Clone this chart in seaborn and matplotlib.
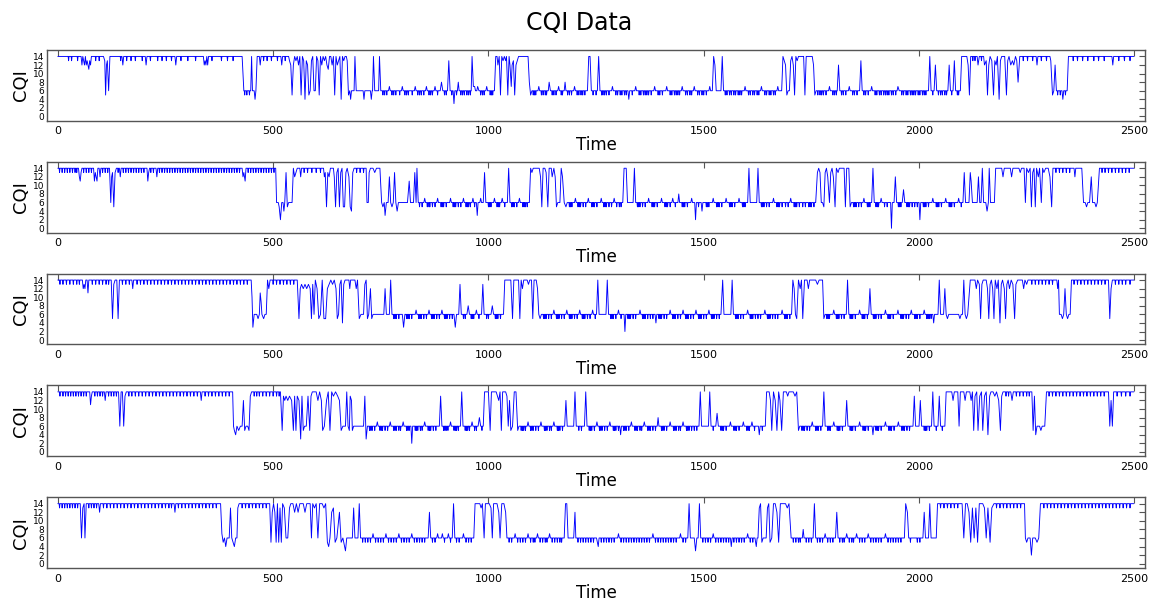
import numpy as np
import pandas as pd
import matplotlib
matplotlib.use("Agg")
import matplotlib.pyplot as plt
import seaborn as sns

# ---------------- data: (time, CQI) vertices ----------------
run1 = [(0,14),(54,14),(56,12),(58,14),(60,13),(62,12),(64,14),(66,12),(68,13),(70,12),(72,11),(74,13),(76,12),(78,14),(106,14),(109,13),(111,5),(113,12),(115,13),(118,6),(121,14),(149,14),(151,12),(153,14),(203,14),(205,12),(207,14),(272,14),(274,12),(276,14),(338,14),(340,12),(342,13),(344,12),(346,14),(348,12),(350,14),(428,14),
(430,10),(432,6),(448,6),(450,14),(452,6),(456,6),(458,4),(460,6),(463,14),(468,14),(470,12),(472,14),(518,14),(520,12),(522,14),(536,14),
(538,13),(541,12),(544,5),(547,12),(550,14),(553,13),(556,14),(559,12),(562,14),(565,5),(568,14),(571,13),(574,4),(577,13),(580,12),(583,5),(586,6),(589,13),(592,14),(595,6),(598,6),(601,14),(604,13),(607,5),(610,14),(613,12),(616,14),(619,13),(622,14),(625,12),(628,11),(631,14),(634,14),(637,12),(640,14),(643,5),(646,14),(649,12),(652,13),(655,14),(658,4),(661,14),(664,13),(667,14),(670,14),(672,13),(675,5),
(678,6),(680,4),(682,6),(688,6),(690,14),(693,6),(709,6),(711,4),(713,6),(726,6),(728,4),(730,6),(731,6),(733,14),(736,6),(745,6),(747,14),(750,6),
(768,6),(770,7),(772,6),(798,6),(800,7),(802,6),(828,6),(830,7),(832,6),(854,6),(856,7),(858,6),(874,6),(876,7),(878,6),(888,6),(891,8),(894,6),(905,6),(908,13),(911,6),(918,6),(920,3),(922,6),(928,6),(930,8),(932,6),(960,6),(962,14),(965,7),(968,7),(970,6),(973,6),(975,7),(978,6),(994,6),(996,7),(998,6),(1014,6),
(1017,14),(1020,14),(1022,12),(1025,14),(1028,5),(1031,14),(1034,13),(1037,14),(1040,13),(1042,14),(1045,5),(1048,14),(1050,12),(1053,7),(1055,12),(1058,13),(1061,5),(1064,12),(1067,13),(1070,14),(1092,14),(1095,8),(1098,5),(1101,6),
(1115,6),(1117,7),(1119,6),(1139,6),(1141,8),(1144,6),(1161,6),(1163,7),(1165,6),(1176,6),(1178,8),(1180,6),(1198,6),(1200,7),(1202,6),(1230,6),(1233,14),(1236,14),(1239,6),(1253,6),(1256,14),(1259,6),
(1286,6),(1288,7),(1290,6),(1324,6),(1326,4),(1328,6),(1340,6),(1342,7),(1344,6),(1384,6),(1386,7),(1388,6),(1412,6),(1414,7),(1416,6),(1448,6),(1450,7),(1452,6),(1476,6),(1478,7),(1480,6),(1512,6),(1514,7),(1516,6),(1520,6),(1523,14),(1526,12),(1529,6),(1540,6),(1543,14),(1546,6),
(1594,6),(1596,7),(1598,6),(1632,6),(1634,7),(1636,6),(1670,6),(1672,7),(1674,6),(1681,6),
(1684,14),(1687,13),(1690,12),(1693,5),(1696,6),(1699,6),(1702,13),(1705,14),(1708,12),(1711,5),(1714,14),(1717,13),(1720,14),(1732,14),(1735,5),(1738,14),(1752,14),(1755,12),(1758,5),(1761,6),
(1790,6),(1792,7),(1794,6),(1810,6),(1813,12),(1816,6),(1836,6),(1838,7),(1840,6),(1862,6),(1865,13),(1868,6),(1888,6),(1890,7),(1892,6),(1949,6),(1951,7),(1954,6),(2022,6),(2025,14),(2028,6),(2035,6),(2038,12),(2041,6),(2067,6),(2070,12),(2073,6),(2079,6),(2082,13),(2085,6),(2096,6),
(2099,14),(2111,14),(2114,12),(2117,5),(2120,14),(2135,14),(2137,12),(2140,14),(2150,14),(2152,12),(2156,13),(2159,5),(2162,12),(2165,14),(2169,13),(2173,5),(2176,13),(2179,12),(2182,14),(2186,4),(2189,13),(2192,14),(2199,14),(2203,5),(2206,13),(2209,14),(2213,12),(2217,13),(2220,12),(2224,14),(2227,13),(2230,8),(2234,14),(2272,14),(2274,12),(2276,14),(2304,14),(2306,13),
(2310,5),(2313,6),(2316,12),(2319,6),(2332,6),(2334,4),(2336,6),(2344,6),(2347,14),(2448,14),(2450,12),(2452,14),(2499,14)]
dips1 = [25,32,46,88,96,146,160,170,180,196,215,232,242,252,264,286,302,320,358,380,394,407,434,439,445,478,486,496,510,528,
755,759,764,776,780,785,794,806,810,814,823,836,840,844,850,862,866,870,882,898,902,915,926,936,940,944,950,954,958,982,986,990,1004,1007,1010,
1104,1107,1110,1123,1127,1132,1135,1138,1148,1152,1157,1169,1172,1184,1188,1193,1206,1210,1215,1219,1224,1243,1250,
1263,1266,1270,1274,1280,1296,1300,1306,1310,1316,1320,1334,1350,1354,1360,1364,1368,1372,1378,1394,1398,1404,1422,1426,1432,1436,1440,1444,1458,1462,1468,1472,1486,1490,1496,1500,1506,
1550,1554,1560,1564,1570,1574,1580,1584,1588,1604,1608,1614,1618,1624,1628,1642,1646,1652,1656,1662,1666,
1765,1770,1774,1778,1784,1800,1804,1808,1820,1824,1830,1846,1850,1856,1872,1876,1882,1898,1902,1908,1912,1918,1922,1926,1930,1936,1940,1946,1960,1964,1970,1974,1980,1984,1988,1992,1998,2002,2008,2012,2016,2032,2045,2050,2054,2060,2064,2076,2089,2092,
2125,2130,2145,2242,2252,2264,2284,2296,2322,2328,2340,2358,2368,2380,2392,2406,2417,2430,2464,2477,2490]

run2 = [(0,14),(48,14),(50,12),(52,11),(54,13),(56,14),(83,14),(85,11),(87,13),(89,12),(91,11),(93,14),(96,14),(98,12),(100,14),(120,14),(123,6),(125,12),(127,13),(130,5),(133,13),(136,14),(143,14),(145,12),(147,14),(207,14),(209,11),(211,13),(213,14),(228,14),(230,12),(232,14),(428,14),(430,12),(432,13),(435,11),(437,14),(506,14),
(508,6),(512,6),(514,5),(517,2),(520,6),(523,6),(525,4),(527,6),(530,13),(533,5),(536,6),(544,6),(547,14),(550,12),(553,13),(556,14),(562,14),(564,12),(566,14),(617,14),(619,12),(621,13),(624,5),(627,13),(630,12),(633,14),(640,14),(642,12),(645,5),(648,13),(651,14),(654,5),(657,13),(660,14),(663,5),(666,5),(669,13),(672,14),(676,12),(679,5),(682,4),(685,13),(688,14),(716,14),(718,6),(721,6),(723,13),(726,14),(732,14),(736,13),(740,14),(748,14),(752,6),(755,5),(758,6),(760,3),(763,6),(767,6),(770,12),(773,6),(776,5),(779,6),(782,13),(785,6),(788,4),(791,6),(812,6),(816,11),(819,6),(826,6),(829,13),(832,6),(834,14),(837,6),
(850,6),(852,7),(854,6),(880,6),(882,7),(884,6),(910,6),(912,7),(914,6),(940,6),(942,7),(944,6),(962,6),(964,7),(966,6),(972,6),(974,3),(976,6),(980,6),(982,7),(984,6),(988,6),(991,13),(994,6),(1012,6),(1014,7),(1016,6),(1030,6),(1032,7),(1034,6),(1044,6),(1047,14),(1050,6),(1070,6),(1072,7),(1074,6),(1095,6),
(1098,14),(1101,13),(1104,14),(1118,14),(1121,12),(1124,5),(1127,14),(1131,14),(1134,13),(1138,5),(1141,14),(1146,14),(1148,12),(1152,14),(1155,12),(1158,5),(1161,6),(1166,6),(1169,14),(1172,12),(1176,6),(1180,5),(1183,6),
(1200,6),(1202,7),(1204,6),(1230,6),(1232,7),(1234,6),(1260,6),(1262,7),(1264,6),(1290,6),(1292,7),(1294,6),(1312,6),(1315,14),(1320,14),(1323,6),(1336,6),(1339,14),(1342,6),(1370,6),(1372,7),(1374,6),(1400,6),(1402,7),(1404,6),(1426,6),(1428,7),(1430,6),(1440,6),(1442,8),(1444,6),(1470,6),(1472,7),(1474,6),(1479,6),(1481,2),(1483,6),(1494,6),(1496,4),(1498,6),(1520,6),(1522,7),(1524,6),(1550,6),(1552,7),(1554,6),(1580,6),(1582,7),(1584,6),(1602,6),(1605,14),(1608,6),(1623,6),(1626,14),(1629,6),(1660,6),(1662,7),(1664,6),(1700,6),(1702,7),(1704,6),(1760,6),
(1764,13),(1767,14),(1770,13),(1773,6),(1776,6),(1779,5),(1782,13),(1785,14),(1788,12),(1792,6),(1795,13),(1798,14),(1801,12),(1805,5),(1808,14),(1812,13),(1815,14),(1822,14),(1826,14),(1829,5),(1832,14),(1837,14),(1840,5),(1843,6),
(1870,6),(1872,7),(1874,6),(1890,6),(1893,14),(1896,6),(1910,6),(1912,7),(1914,6),(1934,6),(1936,0),(1938,6),(1942,6),(1945,12),(1948,6),(1961,6),(1964,9),(1967,6),(2000,6),(2002,2),(2004,6),(2030,6),(2032,7),(2034,6),(2060,6),(2062,7),(2064,6),(2090,6),(2092,7),(2094,6),(2102,6),(2105,13),(2108,6),(2116,6),(2119,13),(2121,11),(2124,6),(2135,6),(2138,12),(2141,6),(2144,6),(2147,14),(2150,6),(2155,6),(2158,4),(2161,6),(2163,14),(2166,6),(2175,6),
(2178,14),(2192,14),(2195,12),(2198,14),(2212,14),(2215,12),(2218,14),(2232,14),(2235,13),(2238,14),(2244,14),(2247,6),(2250,14),(2254,13),(2258,14),(2261,5),(2264,13),(2267,14),(2270,5),(2273,14),(2277,12),(2280,14),(2284,6),(2287,14),(2290,13),(2294,14),(2300,14),(2304,12),(2308,5),(2311,14),(2360,14),(2362,12),(2364,14),(2378,14),(2382,6),(2386,6),(2389,5),(2392,6),(2396,6),(2400,12),(2403,6),(2408,6),(2411,5),(2414,6),(2419,14),(2499,14)]
dips2 = [4,10,16,22,28,34,40,44,60,66,72,78,104,110,116,140,152,158,164,170,176,182,188,194,200,216,222,
236,242,248,254,260,266,272,278,284,290,296,302,308,314,320,326,332,338,344,350,356,362,368,374,380,386,392,398,404,410,416,422,
442,448,454,460,466,472,478,484,490,496,502,572,580,590,600,610,694,702,710,
840,846,858,862,864,870,876,890,893,896,902,918,921,924,930,936,948,951,954,958,968,1000,1003,1006,1020,1023,1026,1038,1054,1057,1060,1066,1080,1083,1086,1090,
1188,1191,1194,1208,1211,1214,1220,1226,1240,1243,1246,1252,1268,1271,1274,1280,1286,1298,1304,1308,
1346,1349,1352,1358,1364,1380,1383,1386,1392,1410,1413,1416,1422,1434,1450,1453,1456,1462,1488,1506,1509,1512,1530,1533,1536,1542,1560,1563,1566,1572,1590,1593,1596,
1634,1637,1640,1646,1652,1670,1673,1676,1682,1690,1696,1710,1713,1716,1722,1730,1736,1744,1747,1750,1756,
1848,1851,1854,1860,1866,1880,1883,1886,1900,1903,1906,1920,1926,1952,1955,1958,1972,1975,1978,1984,1990,1996,2010,2013,2016,2022,2040,2043,2046,2052,2070,2073,2076,2082,2098,
2318,2326,2334,2342,2350,2425,2432,2440,2448,2456,2464,2472,2480,2488]

run3 = [(0,14),(57,14),(59,12),(61,13),(63,12),(65,14),(68,14),(70,11),(72,14),(124,14),(127,5),(130,13),(133,14),(137,14),(140,5),(143,14),(172,14),(174,12),(176,14),(449,14),
(451,10),(453,3),(456,6),(462,6),(465,5),(468,6),(470,11),(472,9),(474,6),(478,5),(481,6),(484,6),(487,14),(490,12),(493,14),(556,14),(560,5),(563,12),(566,13),(570,12),(574,13),(578,12),(582,13),(586,12),(589,5),(592,13),(595,6),(598,14),(602,12),(606,5),(610,6),(614,14),(618,5),(622,5),(626,12),(630,13),(634,14),(638,13),(642,14),(646,12),(649,5),(652,6),(655,13),(658,14),(661,4),(664,13),(667,14),(676,14),(678,12),(680,14),(690,14),(693,12),(696,14),(700,5),(704,6),(710,6),(713,13),(716,14),(719,5),(722,6),(726,12),(729,5),(732,6),
(757,6),(760,12),(763,6),(770,6),(773,14),(776,6),
(800,6),(803,3),(806,6),(830,6),(832,7),(834,6),(860,6),(862,7),(864,6),(890,6),(892,7),(894,6),(920,6),(923,3),(926,6),(931,6),(934,13),(937,6),(950,6),(953,8),(956,6),(970,6),(972,7),(974,6),(984,6),(987,13),(990,6),(1006,6),(1009,8),(1012,6),(1035,6),
(1038,14),(1052,14),(1056,5),(1059,14),(1070,14),(1073,5),(1076,14),(1079,12),(1082,14),(1090,14),(1093,13),(1096,14),(1100,14),(1103,5),(1106,14),(1111,14),(1114,12),(1117,6),(1120,5),(1123,6),
(1150,6),(1152,7),(1154,6),(1180,6),(1182,7),(1184,6),(1210,6),(1212,7),(1214,6),(1240,6),(1242,7),(1244,6),(1251,6),(1254,14),(1257,6),(1273,6),(1276,14),(1279,6),(1300,6),(1302,7),(1304,6),(1315,6),(1317,2),(1319,6),(1350,6),(1352,7),(1354,6),(1387,6),(1389,4),(1391,6),(1420,6),(1422,7),(1424,6),(1450,6),(1452,7),(1454,6),(1480,6),(1482,7),(1484,6),(1510,6),(1512,7),(1514,6),(1540,6),(1544,14),(1547,6),(1563,6),(1566,14),(1569,6),(1600,6),(1602,7),(1604,6),(1640,6),(1642,7),(1644,6),(1680,6),(1682,7),(1684,6),(1704,6),
(1707,14),(1710,12),(1713,6),(1716,5),(1720,14),(1724,12),(1727,14),(1730,5),(1734,14),(1740,14),(1743,12),(1746,14),(1760,14),(1764,13),(1768,14),(1776,14),(1779,5),(1782,6),
(1800,6),(1802,7),(1804,6),(1831,6),(1834,14),(1837,6),(1860,6),(1862,7),(1864,6),(1883,6),(1886,12),(1889,6),(1920,6),(1922,7),(1924,6),(1949,6),(1951,7),(1953,6),(1980,6),(1982,7),(1984,6),(2010,6),(2012,7),(2014,6),(2032,6),(2034,4),(2036,6),(2044,6),(2047,14),(2050,6),(2057,6),(2060,12),(2063,6),(2066,5),(2069,6),(2092,6),(2095,5),(2098,6),(2101,6),(2104,14),(2107,6),(2110,5),(2113,6),
(2119,14),(2130,14),(2133,12),(2136,14),(2140,13),(2143,5),(2146,13),(2149,14),(2156,14),(2159,12),(2162,5),(2165,13),(2168,14),(2171,12),(2174,5),(2177,14),(2181,12),(2184,14),(2188,4),(2191,13),(2194,14),(2198,12),(2201,5),(2204,13),(2207,14),(2210,12),(2214,14),(2218,13),(2222,5),(2225,13),(2229,14),(2240,14),(2243,12),(2246,14),(2250,13),(2253,14),
(2256,14),(2320,14),(2322,12),(2324,14),(2326,6),(2330,6),(2333,5),(2336,6),(2339,12),(2342,6),(2345,5),(2348,6),(2351,6),(2354,14),(2440,14),(2443,5),(2446,12),(2449,14),(2499,14)]
dips3 = [5,12,20,28,36,44,50,80,88,96,104,112,118,150,158,166,184,192,200,208,216,224,232,240,248,256,264,272,280,288,296,304,312,320,328,336,344,352,360,368,376,384,392,400,408,416,424,432,440,
500,508,516,524,532,540,548,
780,783,786,792,810,813,816,822,838,841,844,850,856,868,871,874,880,886,898,901,904,910,916,942,946,960,963,966,978,996,1000,1016,1019,1022,1028,
1128,1131,1134,1140,1146,1158,1161,1164,1170,1176,1188,1191,1194,1200,1206,1218,1221,1224,1230,1236,1248,
1284,1287,1290,1296,1308,1324,1327,1330,1336,1342,1358,1361,1364,1370,1376,1382,1396,1399,1402,1408,1414,1428,1431,1434,1440,1446,1458,1461,1464,1470,1476,1488,1491,1494,1500,1506,1518,1521,1524,1530,1536,
1574,1577,1580,1586,1592,1608,1611,1614,1620,1626,1632,1648,1651,1654,1660,1666,1672,1688,1691,1694,1700,
1786,1789,1792,1808,1811,1814,1820,1826,1840,1843,1846,1852,1868,1871,1874,1880,1894,1897,1900,1906,1912,1928,1931,1934,1940,1958,1961,1964,1970,1976,1990,1993,1996,2002,2018,2021,2024,2028,
2262,2270,2278,2286,2294,2302,2310,2360,2368,2376,2384,2392,2400,2408,2416,2424,2432,2456,2464,2472,2480,2490]

run4 = [(0,14),(74,14),(76,11),(78,13),(80,14),(108,14),(110,12),(112,14),(141,14),(144,6),(147,14),(150,14),(153,6),(156,13),(159,14),(331,14),(333,12),(335,14),(406,14),
(408,6),(410,5),(413,4),(416,6),(420,5),(424,6),(428,6),(431,12),(434,5),(437,6),(441,6),(444,5),(447,13),(450,14),(517,14),(521,5),(524,13),(527,12),(530,13),(534,12),(538,13),(543,12),(547,5),(550,13),(553,5),(556,13),(560,12),(564,3),(567,13),(570,5),(573,6),(577,6),(581,13),(585,5),(588,13),(591,14),(600,14),(604,12),(608,14),(612,12),(615,5),(619,6),(624,12),(628,14),(632,5),(636,14),(640,13),(645,14),(650,13),(654,12),(658,5),(662,6),(668,6),(671,14),(674,6),(677,5),(679,13),(682,12),(684,5),(687,6),(710,6),(713,13),(716,3),(719,6),
(740,6),(742,7),(744,6),(770,6),(772,7),(774,6),(800,6),(802,7),(804,6),(820,6),(822,2),(824,6),(850,6),(852,7),(854,6),(886,6),(889,13),(892,6),(910,6),(912,7),(914,6),(935,6),(938,14),(941,6),(960,6),(962,7),(964,6),(976,6),(979,8),(982,6),(988,6),
(991,14),(1000,14),(1004,5),(1007,14),(1018,14),(1021,13),(1024,12),(1027,14),(1030,5),(1033,14),(1040,14),(1043,13),(1046,6),(1049,12),(1052,5),(1056,6),(1060,14),(1064,14),(1068,5),(1071,6),
(1090,6),(1092,7),(1094,6),(1120,6),(1122,7),(1124,6),(1150,6),(1152,7),(1154,6),(1177,6),(1180,12),(1183,6),(1198,6),(1201,14),(1204,6),(1223,6),(1226,14),(1229,6),(1250,6),(1252,7),(1254,6),(1280,6),(1282,7),(1284,6),(1305,6),(1307,4),(1309,6),(1330,6),(1332,7),(1334,6),(1360,6),(1362,7),(1364,6),(1392,6),(1394,8),(1396,6),(1420,6),(1422,7),(1424,6),(1450,6),(1452,7),(1454,6),(1489,6),(1492,14),(1495,6),(1511,6),(1514,14),(1517,6),(1528,6),(1531,9),(1534,6),(1560,6),(1562,7),(1564,6),(1590,6),(1592,7),(1594,6),(1610,6),(1612,7),(1614,6),(1627,6),(1629,4),(1631,6),(1643,6),
(1646,14),(1652,14),(1655,12),(1658,5),(1662,14),(1666,12),(1670,5),(1674,14),(1677,12),(1681,5),(1685,14),(1692,14),(1695,13),(1698,14),(1708,14),(1712,13),(1716,14),(1720,5),(1723,6),
(1750,6),(1752,7),(1754,6),(1776,6),(1779,14),(1782,6),(1800,6),(1802,7),(1804,6),(1829,6),(1832,12),(1835,6),(1860,6),(1862,7),(1864,6),(1891,6),(1893,4),(1895,6),(1920,6),(1922,7),(1924,6),(1950,6),(1952,7),(1954,6),(1986,6),(1989,13),(1992,6),(2000,6),(2003,12),(2006,6),(2029,6),(2032,14),(2035,6),(2044,6),(2047,13),(2050,6),(2060,6),
(2063,14),(2076,14),(2079,12),(2082,14),(2090,14),(2093,6),(2096,14),(2104,14),(2107,12),(2110,14),(2118,14),(2121,12),(2124,14),(2127,5),(2130,13),(2134,14),(2137,5),(2141,13),(2145,14),(2148,5),(2152,13),(2156,14),(2160,4),(2164,13),(2167,14),(2172,14),(2176,13),(2180,14),(2185,12),(2189,5),(2192,13),(2195,14),(2213,14),(2216,12),(2219,14),(2262,14),(2265,5),(2268,13),(2271,4),(2274,6),(2280,6),(2283,5),(2286,6),(2292,6),(2296,14),(2440,14),(2443,6),(2446,12),(2449,6),(2452,14),(2499,14)]
dips4 = [5,12,18,24,30,36,42,48,54,60,66,86,92,98,104,118,124,130,136,165,172,180,188,196,204,212,220,228,236,244,252,260,268,276,284,292,300,308,316,324,342,350,358,366,374,382,390,398,
456,462,468,476,484,492,500,508,514,
724,727,730,736,748,751,754,760,766,780,783,786,792,796,810,813,816,830,833,836,842,846,860,863,866,872,878,896,899,902,906,920,923,926,930,946,949,952,956,968,972,985,
1076,1079,1082,1086,1098,1101,1104,1110,1116,1130,1133,1136,1142,1146,1160,1163,1166,1172,1210,1216,
1234,1237,1240,1246,1258,1261,1264,1270,1276,1290,1293,1296,1302,1314,1317,1320,1326,1340,1343,1346,1352,1356,1370,1373,1376,1382,1388,1402,1405,1408,1414,1430,1433,1436,1442,1446,1460,1463,1466,1472,1478,1484,
1522,1540,1543,1546,1552,1570,1573,1576,1582,1600,1603,1606,1618,1636,
1728,1731,1734,1740,1746,1760,1763,1766,1772,1788,1791,1794,1810,1813,1816,1822,1840,1843,1846,1852,1870,1873,1876,1882,1900,1903,1906,1912,1930,1933,1936,1942,1960,1963,1966,1972,1978,2012,2015,2018,2024,2040,2054,
2202,2208,2226,2234,2242,2250,2256,2302,2310,2318,2326,2334,2342,2350,2358,2366,2374,2382,2390,2398,2406,2414,2422,2430,2460,2470,2480,2490]

run5 = [(0,14),(52,14),(55,6),(58,13),(61,14),(63,6),(66,14),(95,14),(97,12),(99,14),(270,14),(272,12),(274,14),(378,14),
(381,7),(384,5),(387,6),(390,4),(393,6),(398,6),(401,13),(404,6),(407,5),(410,4),(413,6),(416,6),(418,13),(421,14),(492,14),(495,5),(498,12),(501,14),(504,12),(507,5),(510,14),(513,5),(516,13),(519,5),(522,14),(526,13),(530,6),(534,6),(538,13),(541,14),(546,14),(550,12),(554,14),(558,12),(562,14),(570,14),(574,12),(578,14),(586,14),(589,6),(592,14),(596,13),(600,14),(604,6),(608,14),(614,14),(618,13),(622,14),(626,5),(629,4),(632,6),(636,12),(640,13),(644,5),(648,6),(654,12),(658,5),(662,6),(668,3),(671,6),(684,6),(687,13),(690,6),(697,6),(700,14),(703,6),
(730,6),(732,7),(734,6),(760,6),(762,7),(764,6),(790,6),(792,7),(794,6),(820,6),(822,7),(824,6),(860,6),(863,12),(866,6),(880,6),(882,7),(884,6),(891,6),(893,7),(895,6),(905,6),(907,7),(909,6),(916,6),(919,14),(922,6),(940,6),(942,7),(944,6),(966,6),
(969,14),(980,14),(983,13),(986,14),(990,6),(993,14),(1002,14),(1006,13),(1009,6),(1012,14),(1020,14),(1024,12),(1027,6),(1031,14),(1036,14),(1040,12),(1043,6),
(1060,6),(1062,7),(1064,6),(1090,6),(1092,7),(1094,6),(1112,6),(1114,7),(1116,6),(1140,6),(1142,7),(1144,6),(1176,6),(1179,14),(1182,14),(1185,6),(1198,6),(1201,12),(1203,6),(1251,6),(1253,5),(1255,4),(1257,6),(1300,6),(1302,7),(1304,6),(1380,6),(1382,7),(1384,6),(1444,6),(1446,7),(1448,6),(1463,6),(1466,14),(1469,6),(1478,6),(1481,3),(1484,6),(1487,6),(1490,14),(1493,6),(1520,6),(1522,7),(1524,6),(1562,6),(1564,4),(1566,6),(1600,6),(1602,7),(1604,6),(1619,6),(1622,4),(1624,6),(1626,6),
(1629,13),(1632,14),(1635,5),(1638,6),(1645,6),(1648,13),(1651,14),(1654,5),(1658,6),(1662,14),(1666,14),(1670,12),(1674,5),(1678,14),(1686,14),(1690,14),(1694,13),(1698,14),(1703,6),
(1729,6),(1731,8),(1733,6),(1754,6),(1757,14),(1760,6),(1780,6),(1782,7),(1784,6),(1806,6),(1809,12),(1812,6),(1830,6),(1832,7),(1834,6),(1853,6),(1855,7),(1857,6),(1880,6),(1882,7),(1884,6),(1920,6),(1922,7),(1924,6),(1966,6),(1969,14),(1973,12),(1976,6),(1990,6),(2009,6),(2012,12),(2015,6),(2022,6),(2025,14),(2028,6),(2040,6),
(2043,14),(2100,14),(2104,6),(2108,14),(2112,14),(2116,12),(2120,5),(2124,13),(2128,6),(2132,13),(2136,5),(2140,14),(2148,14),(2152,13),(2156,6),(2160,13),(2165,5),(2169,13),(2174,14),(2245,14),(2247,6),(2250,5),(2253,6),(2258,6),(2261,2),(2264,6),(2270,6),(2274,5),(2278,6),(2282,14),(2499,14)]
dips5 = [4,10,16,22,28,34,40,46,72,78,84,90,106,114,122,130,138,146,154,162,170,178,186,194,202,210,218,226,234,242,250,258,264,280,288,296,304,312,320,328,336,344,352,360,368,
428,436,444,452,460,468,476,484,
708,714,720,726,738,744,750,756,768,774,780,786,798,804,810,816,828,834,840,846,852,870,876,898,912,926,932,948,954,960,
1048,1054,1068,1074,1080,1086,1098,1104,1108,1120,1126,1132,1136,1148,1154,1160,1166,1170,
1208,1214,1220,1226,1232,1238,1244,
1262,1268,1274,1280,1286,1292,1308,1314,1320,1326,1332,1338,1344,1350,1356,1362,1368,1374,1388,1394,1400,1406,1412,1418,1424,1430,1436,1452,1458,
1498,1504,1510,1516,1528,1534,1540,1546,1552,1558,1570,1576,1582,1588,1594,1608,1614,
1708,1714,1720,1724,1738,1744,1750,1764,1770,1776,1788,1794,1800,1816,1822,1826,1838,1844,1848,1862,1868,1874,1888,1894,1900,1906,1912,1928,1934,1940,1946,1952,1958,1980,1996,2002,
2050,2058,2066,2074,2082,2090,2180,2188,2196,2204,2212,2220,2228,2236,
2290,2298,2306,2314,2322,2330,2338,2346,2354,2362,2370,2378,2386,2394,2402,2410,2418,2426,2434,2442,2450,2458,2466,2474,2482,2490]

x_ticks = [0, 500, 1000, 1500, 2000, 2500]
y_ticks = [0, 2, 4, 6, 8, 10, 12, 14]
title_text = "CQI Data"


def build(pairs, dips):
    """Combine the read vertices with the one-step dips read on flat stretches."""
    t = np.array([p[0] for p in pairs], float)
    v = np.array([p[1] for p in pairs], float)
    extra = []
    for d in dips:
        i = np.searchsorted(t, d) - 1
        if 0 <= i < len(t) - 1 and v[i] == v[i + 1] and t[i] < d - 1 and t[i + 1] > d + 1:
            extra += [(d - 1, v[i]), (d, v[i] - 1), (d + 1, v[i])]
    allp = sorted(list(zip(t, v)) + extra, key=lambda p: p[0])
    return pd.DataFrame(allp, columns=["Time", "CQI"])


sns.set_theme(style="white")
plt.rcParams["font.family"] = ["DejaVu Sans"]
plt.rcParams["text.color"] = "black"
plt.rcParams["axes.labelcolor"] = "black"
plt.rcParams["xtick.color"] = "black"
plt.rcParams["ytick.color"] = "black"

fig, axes = plt.subplots(5, 1, figsize=(11.59, 6.01), dpi=100)
fig.subplots_adjust(left=0.0406, right=0.988, top=0.9168, bottom=0.0549, hspace=0.58)

runs = [(run1, dips1), (run2, dips2), (run3, dips3), (run4, dips4), (run5, dips5)]
for ax, (pairs, dips) in zip(axes, runs):
    df = build(pairs, dips)
    sns.lineplot(data=df, x="Time", y="CQI", ax=ax, color="#0000ff",
                 linewidth=0.65, estimator=None, sort=False)
    ax.set_xlim(-25, 2525)
    ax.set_ylim(-1, 15.5)
    ax.set_xticks(x_ticks)
    ax.set_yticks(y_ticks)
    ax.tick_params(direction="in", top=True, right=True, length=4, width=0.8,
                   color="#555555", labelcolor="black")
    ax.tick_params(axis="x", labelsize=8, pad=4)
    ax.tick_params(axis="y", labelsize=6.5, pad=2)
    ax.set_xlabel("Time", fontsize=12, labelpad=0)
    ax.set_ylabel("CQI", fontsize=13, labelpad=2)
    for s in ax.spines.values():
        s.set_color("#555555")
        s.set_linewidth(1.0)

fig.suptitle(title_text, fontsize=17, y=0.982, color="black")
fig.savefig("out.png", dpi=100)
